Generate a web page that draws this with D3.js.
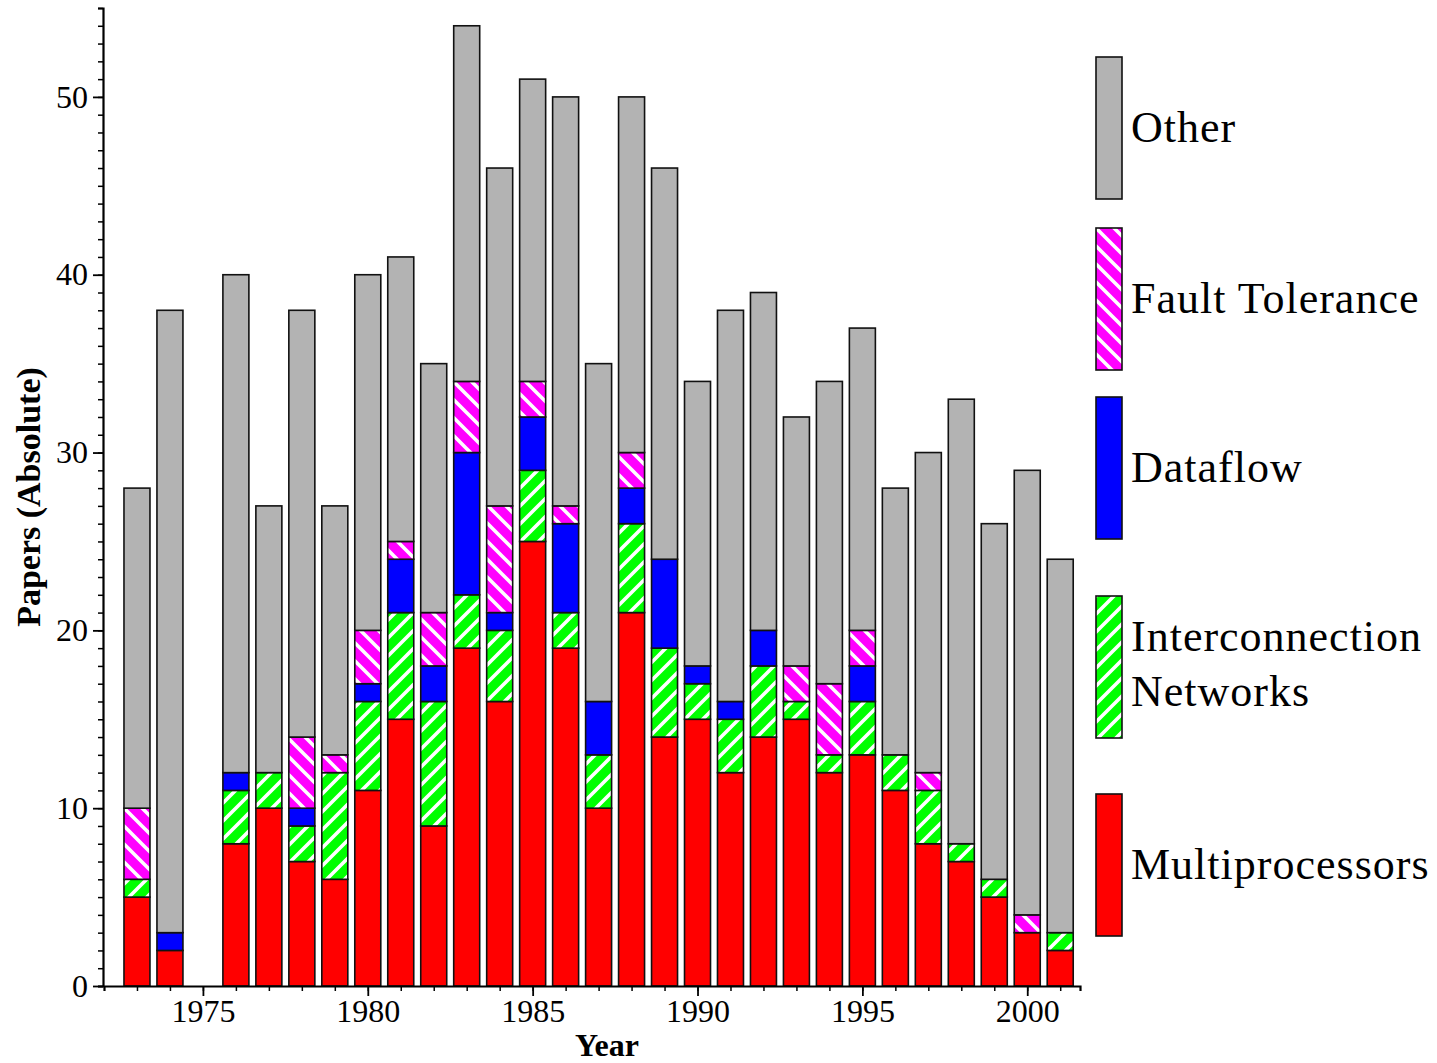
<!DOCTYPE html>
<meta charset="UTF-8">
<style>
    body { margin: 0; background: #fff; }
    text { font-family: "Liberation Serif", "Times New Roman", serif; fill: #000; }
    .axis path, .axis line { stroke: #000; }
</style>
<svg width="1437" height="1063"></svg>
<script src="https://cdn.jsdelivr.net/npm/d3@7"></script>
<script>

// data
var years = [1973, 1974, 1976, 1977, 1978, 1979, 1980, 1981, 1982, 1983, 1984, 1985, 1986, 1987,
             1988, 1989, 1990, 1991, 1992, 1993, 1994, 1995, 1996, 1997, 1998, 1999, 2000, 2001];
var multiprocessors = [5, 2, 8, 10, 7, 6, 11, 15, 9, 19, 16, 25, 19, 10, 21, 14, 15, 12, 14, 15, 12, 13, 11, 8, 7, 5, 3, 2];
var interconnection = [1, 0, 3, 2, 2, 6, 5, 6, 7, 3, 4, 4, 2, 3, 5, 5, 2, 3, 4, 1, 1, 3, 2, 3, 1, 1, 0, 1];
var dataflow        = [0, 1, 1, 0, 1, 0, 1, 3, 2, 8, 1, 3, 5, 3, 2, 5, 1, 1, 2, 0, 0, 2, 0, 0, 0, 0, 0, 0];
var faultTolerance  = [4, 0, 0, 0, 4, 1, 3, 1, 3, 4, 6, 2, 1, 0, 2, 0, 0, 0, 0, 2, 4, 2, 0, 1, 0, 0, 1, 0];
var other           = [18, 35, 28, 15, 24, 14, 20, 16, 14, 20, 19, 17, 23, 19, 20, 22, 16, 22, 19, 14, 17, 17, 15, 18, 25, 20, 25, 21];

var keys = ["multi", "inter", "dataflow", "fault", "other"];
var labels = {multi: ["Multiprocessors"], inter: ["Interconnection", "Networks"], dataflow: ["Dataflow"],
              fault: ["Fault Tolerance"], other: ["Other"]};
var yTicks = [0, 10, 20, 30, 40, 50];
var xTicks = [1975, 1980, 1985, 1990, 1995, 2000];

var fills = {multi: "#ff0000", inter: "url(#hatchGreen)", dataflow: "#0000ff", fault: "url(#hatchMagenta)", other: "#b3b3b3"};

var svg = d3.select("svg");

// hatch patterns
var defs = svg.append("defs");
function hatch(id, color, flip) {
    var p = defs.append("pattern")
        .attr("id", id)
        .attr("patternUnits", "userSpaceOnUse")
        .attr("width", 18).attr("height", 18);
    p.append("rect").attr("width", 18).attr("height", 18).attr("fill", color);
    p.append("path")
        .attr("d", flip ? "M0,0L18,18M-9,9L9,27M9,-9L27,9" : "M0,18L18,0M-9,9L9,-9M9,27L27,9")
        .attr("stroke", "#fff")
        .attr("stroke-width", 3.6);
}
hatch("hatchGreen", "#00ff00", false);
hatch("hatchMagenta", "#ff00ff", true);

var x = d3.scaleLinear().domain([1972, 2001.6]).range([104, 1080]);
var y = d3.scaleLinear().domain([0, 55]).range([986, 8]);

var table = years.map(function(yr, i) {
    return {year: yr, multi: multiprocessors[i], inter: interconnection[i], dataflow: dataflow[i],
            fault: faultTolerance[i], other: other[i]};
});
var stacked = d3.stack().keys(keys)(table);

// bars
var barW = 26;
svg.append("g").selectAll("g")
    .data(stacked)
    .enter().append("g")
    .attr("fill", function(s) { return fills[s.key]; })
    .selectAll("rect")
    .data(function(s) { return s.filter(function(d) { return d[1] > d[0]; }); })
    .enter().append("rect")
    .attr("x", function(d) { return x(d.data.year) - barW / 2; })
    .attr("y", function(d) { return y(d[1]); })
    .attr("width", barW)
    .attr("height", function(d) { return y(d[0]) - y(d[1]); })
    .attr("stroke", "#111")
    .attr("stroke-width", 1.6);

// y axis
var yMinor = svg.append("g").attr("class", "axis")
    .attr("transform", "translate(103,0)")
    .call(d3.axisLeft(y).tickValues(d3.range(0, 56)).tickSize(5).tickFormat(""));
yMinor.selectAll("line").attr("stroke-width", 1.5);
yMinor.select(".domain").attr("stroke-width", 2.2);

var yMajor = svg.append("g").attr("class", "axis")
    .attr("transform", "translate(103,0)")
    .call(d3.axisLeft(y).tickValues(yTicks).tickSize(10).tickPadding(5));
yMajor.select(".domain").remove();
yMajor.selectAll("line").attr("stroke-width", 1.8);
yMajor.selectAll("text").style("font-size", "32px");

// x axis
var xMinor = svg.append("g").attr("class", "axis")
    .attr("transform", "translate(0,986)")
    .call(d3.axisBottom(x).tickValues(d3.range(1973, 2002)).tickSize(5).tickFormat(""));
xMinor.selectAll("line").attr("stroke-width", 1.5);
xMinor.select(".domain").attr("stroke-width", 2.2);

var xMajor = svg.append("g").attr("class", "axis")
    .attr("transform", "translate(0,986)")
    .call(d3.axisBottom(x).tickValues(xTicks).tickSize(10).tickPadding(3).tickFormat(d3.format("d")));
xMajor.select(".domain").remove();
xMajor.selectAll("line").attr("stroke-width", 1.8);
xMajor.selectAll("text").style("font-size", "32px");

svg.selectAll(".axis").attr("font-family", null);

// axis titles
svg.append("text")
    .attr("x", 607).attr("y", 1056)
    .attr("text-anchor", "middle")
    .style("font-size", "32px").style("font-weight", "bold")
    .text("Year");

svg.append("text")
    .attr("transform", "translate(40,497) rotate(-90)")
    .attr("text-anchor", "middle")
    .style("font-size", "34px").style("font-weight", "bold")
    .text("Papers (Absolute)");

// legend, top to bottom
var legendOrder = ["other", "fault", "dataflow", "inter", "multi"];
var legendTop = [57, 228, 397, 596, 794];
var legend = svg.append("g").selectAll("g")
    .data(legendOrder)
    .enter().append("g")
    .attr("transform", function(k, i) { return "translate(1096," + legendTop[i] + ")"; });

legend.append("rect")
    .attr("width", 26).attr("height", 142)
    .attr("fill", function(k) { return fills[k]; })
    .attr("stroke", "#111").attr("stroke-width", 1.6);

legend.append("text")
    .attr("x", 35)
    .attr("y", function(k) { return labels[k].length > 1 ? 55 : 85; })
    .style("font-size", "44px")
    .style("letter-spacing", "1px")
    .selectAll("tspan")
    .data(function(k) { return labels[k]; })
    .enter().append("tspan")
    .attr("x", 35)
    .attr("dy", function(d, i) { return i ? 55 : 0; })
    .text(function(d) { return d; });

</script>
